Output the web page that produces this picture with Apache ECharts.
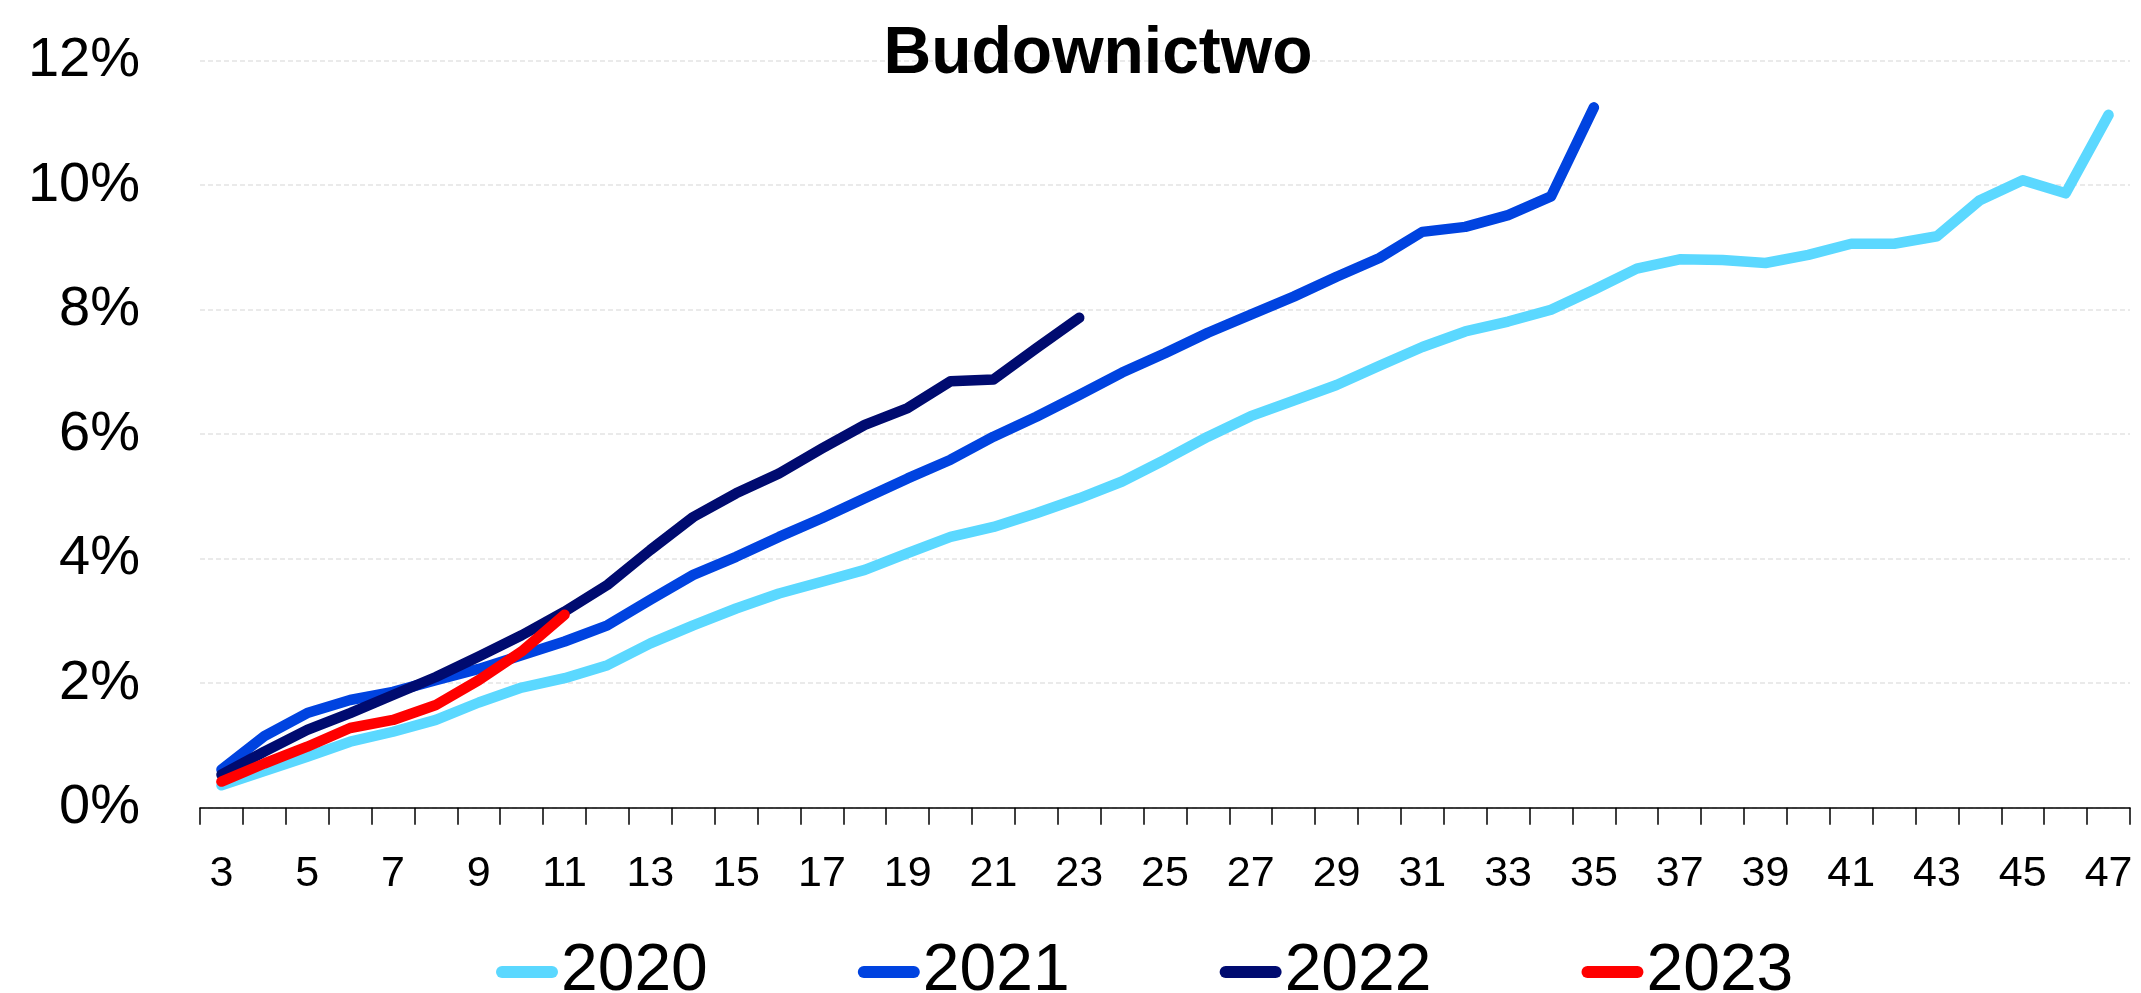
<!DOCTYPE html>
<html>
<head>
<meta charset="utf-8">
<title>Budownictwo</title>
<script src="https://cdn.jsdelivr.net/npm/echarts@6/dist/echarts.min.js"></script>
<style>
  html, body { margin: 0; padding: 0; background: #ffffff; }
  #chart { width: 2141px; height: 993px; }
</style>
</head>
<body>
<div id="chart"></div>
<script>
// Week numbers on the horizontal axis
const weeks = ['3','4','5','6','7','8','9','10','11','12','13','14','15','16','17','18','19','20','21','22','23','24','25',
  '26','27','28','29','30','31','32','33','34','35','36','37','38','39','40','41','42','43','44','45','46','47'];

// Cumulative share (%) by week, one list per year
const y2020 = [0.36, 0.59, 0.82, 1.06, 1.22, 1.41, 1.69, 1.93, 2.08, 2.29, 2.64, 2.93, 3.20, 3.44, 3.63, 3.82, 4.09, 4.35,
  4.51, 4.73, 4.97, 5.24, 5.59, 5.96, 6.29, 6.54, 6.79, 7.10, 7.40, 7.65, 7.81, 8.00, 8.32, 8.66, 8.81, 8.80, 8.75,
  8.88, 9.06, 9.06, 9.18, 9.76, 10.08, 9.87, 11.13];
const y2021 = [0.61, 1.15, 1.52, 1.73, 1.86, 2.05, 2.23, 2.45, 2.67, 2.93, 3.34, 3.74, 4.03, 4.35, 4.65, 4.97, 5.29, 5.59,
  5.96, 6.28, 6.63, 6.99, 7.30, 7.63, 7.92, 8.21, 8.53, 8.83, 9.25, 9.33, 9.52, 9.82, 11.25];
const y2022 = [0.53, 0.90, 1.25, 1.52, 1.81, 2.10, 2.43, 2.77, 3.15, 3.58, 4.14, 4.67, 5.05, 5.37, 5.77, 6.15, 6.42, 6.85,
  6.88, 7.38, 7.87];
const y2023 = [0.42, 0.71, 0.98, 1.28, 1.41, 1.65, 2.05, 2.51, 3.10];

// Y axis ticks
const yMin = 0, yMax = 12, yStep = 2;

const seriesNames = ['2020', '2021', '2022', '2023'];
const seriesColors = ['#5BD8FF', '#0043E0', '#000B70', '#FF0000'];
const seriesData = [y2020, y2021, y2022, y2023];

const FONT = "'Liberation Sans', Arial, sans-serif";
const pill = 'path://M6,0 H56 A6,6 0 0 1 56,12 H6 A6,6 0 0 1 6,0 Z';

const chart = echarts.init(document.getElementById('chart'), null, { renderer: 'canvas' });

chart.setOption({
  backgroundColor: '#ffffff',
  animation: false,
  textStyle: { fontFamily: FONT, color: '#000' },
  title: {
    text: 'Budownictwo',
    left: 1093,
    textAlign: 'center',
    top: 17,
    textStyle: { fontFamily: FONT, fontSize: 66, fontWeight: 'bold', color: '#000' }
  },
  legend: {
    data: seriesNames.map(n => ({ name: n, icon: pill })),
    left: 491,
    top: 934,
    itemWidth: 62,
    itemHeight: 12,
    itemGap: 150,
    textStyle: { fontFamily: FONT, fontSize: 66, color: '#000', padding: [0, 0, 0, -2] }
  },
  grid: { left: 200, right: 11, top: 60.7, bottom: 185.3, containLabel: false },
  xAxis: {
    type: 'category',
    data: weeks,
    boundaryGap: true,
    axisLine: { show: true, lineStyle: { color: '#000', width: 1.5 } },
    axisTick: { show: true, interval: 0, length: 17, lineStyle: { color: '#000', width: 1.5 } },
    axisLabel: { interval: 1, margin: 45, fontFamily: FONT, fontSize: 43, color: '#000' },
    splitLine: { show: false }
  },
  yAxis: {
    type: 'value',
    min: yMin,
    max: yMax,
    interval: yStep,
    axisLine: { show: false },
    axisTick: { show: false },
    axisLabel: { formatter: '{value}%', margin: 60, fontFamily: FONT, fontSize: 56, color: '#000' },
    splitLine: { show: true, lineStyle: { color: '#E3E3E3', width: 1.5, type: [5, 3] } }
  },
  series: seriesData.map((d, i) => ({
    name: seriesNames[i],
    type: 'line',
    data: d,
    showSymbol: false,
    symbol: 'none',
    smooth: false,
    color: seriesColors[i],
    lineStyle: { color: seriesColors[i], width: 10.5, cap: 'round', join: 'round' },
    z: 2 + i
  }))
});
</script>
</body>
</html>
